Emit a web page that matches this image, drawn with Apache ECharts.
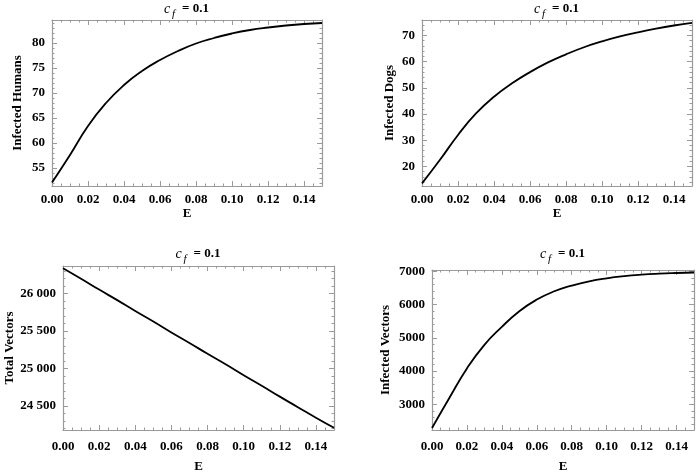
<!DOCTYPE html>
<html>
<head>
<meta charset="utf-8">
<script src="https://cdn.jsdelivr.net/npm/echarts@6/dist/echarts.min.js"></script>
<style>
  html, body { margin: 0; padding: 0; background: #fff; }
  #chart { width: 698px; height: 475px; }
</style>
</head>
<body>
<div id="chart"></div>
<script>
// values (E from 0 to 0.15)
var eVals = [0, 0.01, 0.02, 0.03, 0.04, 0.05, 0.06, 0.07, 0.08, 0.09, 0.10, 0.11, 0.12, 0.13, 0.14, 0.15]
var infectedHumans = [52.1, 57.6, 63.4, 68.0, 71.6, 74.4, 76.6, 78.4, 79.9, 81.0, 81.9, 82.6, 83.1, 83.5, 83.8, 84.0]
var infectedDogs = [13.5, 22.5, 32.0, 40.2, 46.6, 51.7, 56.0, 59.7, 62.8, 65.5, 67.7, 69.6, 71.2, 72.6, 73.8, 74.8]
var totalVectors = [26335, 26195, 26050, 25910, 25765, 25625, 25480, 25340, 25195, 25055, 24910, 24770, 24625, 24485, 24345, 24210]
var infectedVectors = [2290, 3200, 4080, 4790, 5330, 5800, 6150, 6400, 6570, 6700, 6790, 6855, 6900, 6930, 6950, 6965]

// tick labels
var eTicks = [0, 0.02, 0.04, 0.06, 0.08, 0.10, 0.12, 0.14]
var humanTicks = [55, 60, 65, 70, 75, 80]
var dogTicks = [20, 30, 40, 50, 60, 70]
var totalTicks = [24500, 25000, 25500, 26000]
var infVecTicks = [3000, 4000, 5000, 6000, 7000]

var titleText = '= 0.1'
var FONT = 'Liberation Serif'
var FRAME = '#9a9a9a'

var panels = [
  { name: 'Infected Humans', data: infectedHumans, ticks: humanTicks, min: 51.4, max: 84.6, minor: 1,
    grid: { left: 52, top: 20, width: 270, height: 166 }, yGap: 28, xGap: 21, xMargin: 7, titleY: 9, fmt: function (v) { return String(v) } },
  { name: 'Infected Dogs', data: infectedDogs, ticks: dogTicks, min: 12.5, max: 75.9, minor: 2,
    grid: { left: 422, top: 20, width: 270, height: 166 }, yGap: 26, xGap: 21, xMargin: 7, titleY: 9, fmt: function (v) { return String(v) } },
  { name: 'Total Vectors', data: totalVectors, ticks: totalTicks, min: 24181, max: 26364, minor: 100,
    grid: { left: 63, top: 266, width: 271, height: 164 }, yGap: 46, xGap: 30, xMargin: 10, titleY: 254,
    fmt: function (v) { var s = String(v); return s.slice(0, 2) + ' ' + s.slice(2) } },
  { name: 'Infected Vectors', data: infectedVectors, ticks: infVecTicks, min: 2228, max: 7040, minor: 200,
    grid: { left: 432, top: 270, width: 262, height: 160 }, yGap: 40, xGap: 30, xMargin: 10, titleY: 254, fmt: function (v) { return String(v) } }
]

function minorValues(min, max, step, majors) {
  var out = []
  var k = Math.ceil(min / step - 1e-9)
  for (; k * step <= max + 1e-9; k++) {
    var v = +(k * step).toFixed(6)
    if (majors.indexOf(v) < 0) out.push(v)
  }
  return out
}

var grids = []
var xAxes = []
var yAxes = []
var series = []
var graphics = []

panels.forEach(function (p, i) {
  grids.push(Object.assign({ containLabel: false }, p.grid))
  var xMinor = minorValues(0, 0.15, 0.005, eTicks)
  var yMinor = minorValues(p.min, p.max, p.minor, p.ticks)
  var xBase = { gridIndex: i, type: 'value', min: 0, max: 0.15, splitLine: { show: false } }
  var yBase = { gridIndex: i, type: 'value', min: p.min, max: p.max, splitLine: { show: false } }
  var lineOn = { show: true, onZero: false, lineStyle: { color: FRAME, width: 1.2 } }
  var lineOff = { show: false, onZero: false }
  var majorTick = function (vals) { return { show: true, inside: true, length: 5, customValues: vals, lineStyle: { color: FRAME } } }
  var minorTick = function (vals) { return { show: true, inside: true, length: 2.5, customValues: vals, lineStyle: { color: FRAME } } }

  var xMain = xAxes.length
  xAxes.push(Object.assign({}, xBase, {
    position: 'bottom', axisLine: lineOn, axisTick: majorTick(eTicks),
    axisLabel: { show: true, customValues: eTicks, margin: p.xMargin, color: '#000', fontFamily: FONT, fontWeight: 'bold', fontSize: 13,
      formatter: function (v) { return v.toFixed(2) } },
    name: 'E', nameLocation: 'middle', nameGap: p.xGap,
    nameTextStyle: { color: '#000', fontFamily: FONT, fontWeight: 'bold', fontSize: 13 }
  }))
  xAxes.push(Object.assign({}, xBase, { position: 'bottom', axisLine: lineOff, axisTick: minorTick(xMinor), axisLabel: { show: false } }))
  xAxes.push(Object.assign({}, xBase, { position: 'top', axisLine: lineOn, axisTick: majorTick(eTicks), axisLabel: { show: false } }))
  xAxes.push(Object.assign({}, xBase, { position: 'top', axisLine: lineOff, axisTick: minorTick(xMinor), axisLabel: { show: false } }))

  var yMain = yAxes.length
  yAxes.push(Object.assign({}, yBase, {
    position: 'left', axisLine: lineOn, axisTick: majorTick(p.ticks),
    axisLabel: { show: true, customValues: p.ticks, margin: 7, color: '#000', fontFamily: FONT, fontWeight: 'bold', fontSize: 13,
      formatter: p.fmt },
    name: p.name, nameLocation: 'middle', nameGap: p.yGap, nameRotate: 90,
    nameTextStyle: { color: '#000', fontFamily: FONT, fontWeight: 'bold', fontSize: 13 }
  }))
  yAxes.push(Object.assign({}, yBase, { position: 'left', axisLine: lineOff, axisTick: minorTick(yMinor), axisLabel: { show: false } }))
  yAxes.push(Object.assign({}, yBase, { position: 'right', axisLine: lineOn, axisTick: majorTick(p.ticks), axisLabel: { show: false } }))
  yAxes.push(Object.assign({}, yBase, { position: 'right', axisLine: lineOff, axisTick: minorTick(yMinor), axisLabel: { show: false } }))

  series.push({
    type: 'line',
    xAxisIndex: xMain,
    yAxisIndex: yMain,
    data: eVals.map(function (e, k) { return [e, p.data[k]] }),
    smooth: 0.5,
    showSymbol: false,
    silent: true,
    lineStyle: { color: '#000', width: 1.8 }
  })

  // panel title: c_f = 0.1
  var cx = p.grid.left + p.grid.width / 2
  graphics.push({
    type: 'group', x: cx, y: p.titleY,
    children: [
      { type: 'text', x: -23, y: 0, style: { text: 'c', font: 'italic 14px "' + FONT + '"', fill: '#000', verticalAlign: 'middle' } },
      { type: 'text', x: -15, y: 5, style: { text: 'f', font: 'italic 11px "' + FONT + '"', fill: '#000', verticalAlign: 'middle' } },
      { type: 'text', x: -5, y: 0, style: { text: titleText, font: 'bold 13px "' + FONT + '"', fill: '#000', verticalAlign: 'middle' } }
    ]
  })
})

var chart = echarts.init(document.getElementById('chart'))
var option = {
  animation: false,
  backgroundColor: '#fff',
  grid: grids,
  xAxis: xAxes,
  yAxis: yAxes,
  series: series,
  graphic: graphics
}
chart.setOption(option)
</script>
</body>
</html>
